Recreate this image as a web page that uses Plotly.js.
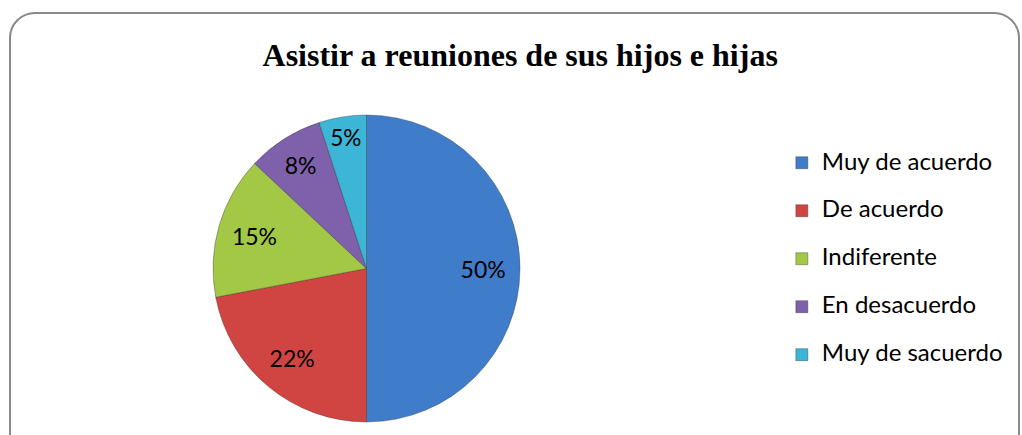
<!DOCTYPE html>
<html><head><meta charset="utf-8">
<script src="https://cdn.plot.ly/plotly-3.0.1.min.js"></script>
<style>
html,body{margin:0;padding:0;background:#fff;}
#frame{position:absolute;left:9px;top:12px;width:1011px;height:460px;border:2px solid #8a8a8a;border-radius:26px;box-sizing:border-box;}
#chart{position:absolute;left:0;top:0;width:1022px;height:435px;}
</style></head>
<body>
<div id="frame"></div>
<div id="chart"></div>
<script>
const categories = ["Muy de acuerdo","De acuerdo","Indiferente","En desacuerdo","Muy de sacuerdo"];
const values = [50, 22, 15, 8, 5];
const colors = ["#3f7dca","#d04541","#a2c846","#7f61ab","#3cb5d6"];
const chartTitle = "Asistir a reuniones de sus hijos e hijas";

const legendLabels = categories.map(c => '<span style="font-size:24px">' + c + '</span><br>&nbsp;');

const W = 1022, H = 435;
const cx = 366.5, cy = 268.5, r = 153.5;
const dom = {x: [(cx - r) / W, (cx + r) / W], y: [1 - (cy + r) / H, 1 - (cy - r) / H]};
const lblFont = {family: 'Lato, "Open Sans", sans-serif', size: 23, color: '#000'};

Plotly.newPlot('chart', [{
  type: 'pie',
  labels: legendLabels,
  values: values,
  sort: false,
  direction: 'clockwise',
  rotation: 0,
  marker: {colors: colors, line: {color: 'rgba(40,40,40,0.35)', width: 1}},
  textinfo: 'none',
  hoverinfo: 'none',
  domain: dom
}, {
  type: 'pie',
  labels: legendLabels,
  values: values,
  sort: false,
  direction: 'clockwise',
  rotation: 0,
  hole: 0.52,
  showlegend: false,
  marker: {colors: values.map(() => 'rgba(0,0,0,0)'), line: {width: 0}},
  textinfo: 'percent',
  texttemplate: '%{percent:.0%}',
  textposition: 'inside',
  insidetextorientation: 'horizontal',
  textfont: lblFont,
  hoverinfo: 'none',
  domain: dom
}], {
  width: W, height: H,
  margin: {l: 0, r: 0, t: 0, b: 0},
  paper_bgcolor: 'rgba(0,0,0,0)',
  plot_bgcolor: 'rgba(0,0,0,0)',
  title: {text: '<b>' + chartTitle + '</b>', font: {family: '"Liberation Serif", "Times New Roman", serif', size: 32, color: '#000'}, x: 0.509, xanchor: 'center', y: 1 - 55 / H, yanchor: 'middle'},
  showlegend: true,
  legend: {x: 0.765, xanchor: 'left', y: 1 - 145 / H, yanchor: 'top', valign: 'top', itemwidth: 30,
    font: {family: 'Lato, "Open Sans", sans-serif', size: 17.3, color: '#000'}, bgcolor: 'rgba(0,0,0,0)'}
}, {displayModeBar: false, staticPlot: true});
</script>
</body></html>
